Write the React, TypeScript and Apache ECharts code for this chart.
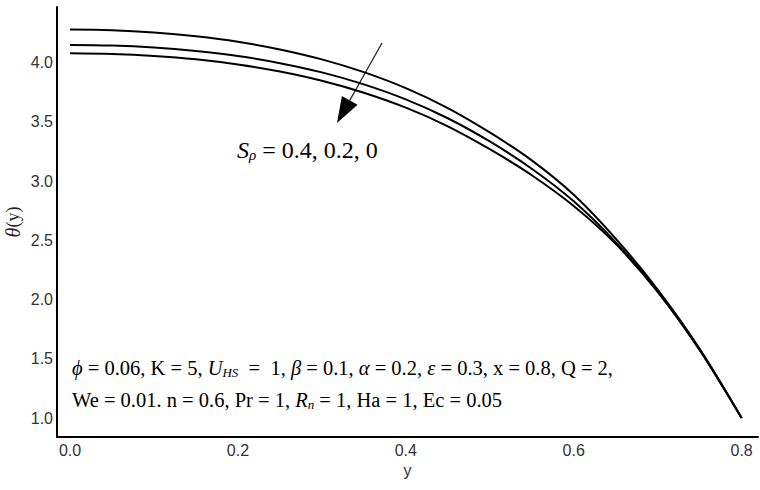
import React, { useEffect, useRef } from "react";
import * as echarts from "echarts";

const xValues = [0, 0.05, 0.1, 0.15, 0.2, 0.25, 0.3, 0.35, 0.4, 0.45, 0.5, 0.55, 0.6, 0.65, 0.7, 0.75, 0.8];
// S_p = 0.4 (top curve)
const thetaSp04 = [4.28, 4.274, 4.255, 4.223, 4.177, 4.112, 4.028, 3.92, 3.785, 3.617, 3.411, 3.175, 2.885, 2.515, 2.085, 1.585, 1.0];
// S_p = 0.2 (middle curve)
const thetaSp02 = [4.15, 4.145, 4.128, 4.098, 4.056, 3.996, 3.918, 3.817, 3.69, 3.531, 3.335, 3.105, 2.83, 2.485, 2.07, 1.575, 1.0];
// S_p = 0 (bottom curve)
const thetaSp0 = [4.08, 4.074, 4.057, 4.028, 3.984, 3.925, 3.847, 3.746, 3.62, 3.463, 3.27, 3.05, 2.79, 2.47, 2.065, 1.575, 1.0];
const xTicks = [0, 0.2, 0.4, 0.6, 0.8];
const yTicks = [1.0, 1.5, 2.0, 2.5, 3.0, 3.5, 4.0];

const serif = "'Liberation Serif', 'Times New Roman', serif";
const sans = "'Liberation Sans', Arial, sans-serif";

export default function App() {
  const ref = useRef<HTMLDivElement>(null);
  useEffect(() => {
    if (!ref.current) return;
    const chart = echarts.init(ref.current, null, { renderer: "svg" });
    const mk = (vals: number[]) => xValues.map((x, i) => [x, vals[i]]);
    const lineStyle = { color: "#000", width: 2 };
    const series = [
      { name: "Sp = 0.4", data: mk(thetaSp04) },
      { name: "Sp = 0.2", data: mk(thetaSp02) },
      { name: "Sp = 0", data: mk(thetaSp0) },
    ].map((s) => ({
      ...s,
      type: "line",
      smooth: 0.35,
      showSymbol: false,
      symbol: "none",
      lineStyle,
    }));

    const tip = [337, 123];
    const start = [382, 43];
    const dx = tip[0] - start[0];
    const dy = tip[1] - start[1];
    const len = Math.hypot(dx, dy);
    const ux = dx / len, uy = dy / len;
    const hl = 26, hw = 9;
    const bx = tip[0] - hl * ux, by = tip[1] - hl * uy;

    const txt = { fontFamily: serif, fontSize: 20.5, color: "#222" };
    const ital = { ...txt, fontStyle: "italic" };
    const sub = { fontFamily: serif, fontStyle: "italic", fontSize: 13, color: "#222", padding: [9, 0, 0, 0] };

    chart.setOption({
      animation: false,
      backgroundColor: "#fff",
      grid: { left: 57, right: 2, top: 7, bottom: 53, containLabel: false, outerBoundsMode: "none" },
      xAxis: {
        type: "value",
        min: -0.0155,
        max: 0.8195,
        name: "y",
        nameLocation: "middle",
        nameGap: 25,
        nameMoveOverlap: false,
        nameTextStyle: { fontFamily: sans, fontSize: 16, color: "#333" },
        axisLine: { show: true, onZero: false, lineStyle: { color: "#000", width: 2 } },
        axisTick: { show: false },
        splitLine: { show: false },
        axisLabel: {
          customValues: xTicks,
          formatter: (v: number) => v.toFixed(1),
          fontFamily: sans,
          fontSize: 16,
          color: "#333",
          margin: 5,
        },
      },
      yAxis: {
        type: "value",
        min: 0.84,
        max: 4.47,
        name: "{t|θ}{p|(y)}",
        nameLocation: "middle",
        nameGap: 34,
        nameMoveOverlap: false,
        nameRotate: 90,
        nameTextStyle: {
          rich: {
            t: { fontFamily: serif, fontStyle: "italic", fontSize: 20, color: "#222" },
            p: { fontFamily: serif, fontSize: 18, color: "#222" },
          },
        },
        axisLine: { show: true, onZero: false, lineStyle: { color: "#000", width: 2 } },
        axisTick: { show: false },
        splitLine: { show: false },
        axisLabel: {
          customValues: yTicks,
          formatter: (v: number) => v.toFixed(1),
          fontFamily: sans,
          fontSize: 16,
          color: "#333",
          margin: 4,
        },
      },
      series,
      graphic: [
        {
          type: "line",
          shape: { x1: start[0], y1: start[1], x2: bx, y2: by },
          style: { stroke: "#222", lineWidth: 1.2 },
        },
        {
          type: "polygon",
          shape: {
            points: [
              [tip[0], tip[1]],
              [bx + hw * -uy, by + hw * ux],
              [bx - hw * -uy, by - hw * ux],
            ],
          },
          style: { fill: "#000" },
        },
        {
          type: "text",
          x: 237,
          y: 150,
          style: {
            text: "{s|S}{sub|ρ}{t| = 0.4, 0.2, 0}",
            verticalAlign: "middle",
            rich: {
              s: { fontFamily: serif, fontStyle: "italic", fontSize: 24, color: "#222" },
              sub: { fontFamily: serif, fontStyle: "italic", fontSize: 15, color: "#222", padding: [10, 0, 0, 0] },
              t: { fontFamily: serif, fontSize: 24, color: "#222" },
            },
          },
        },
        {
          type: "text",
          x: 72,
          y: 368,
          style: {
            text:
              "{i|ϕ}{t| = 0.06, K = 5, }{i|U}{sub|HS}{t|  =  1, }{i|β}{t| = 0.1, }{i|α}{t| = 0.2, }{i|ε}{t| = 0.3, x = 0.8, Q = 2,}",
            verticalAlign: "middle",
            rich: { i: ital, t: txt, sub },
          },
        },
        {
          type: "text",
          x: 72,
          y: 400,
          style: {
            text: "{t|We = 0.01. n = 0.6, Pr = 1, }{i|R}{sub|n}{t| = 1, Ha = 1, Ec = 0.05}",
            verticalAlign: "middle",
            rich: { i: ital, t: txt, sub },
          },
        },
      ],
    });
    return () => chart.dispose();
  }, []);
  return (
    <div
      ref={ref}
      style={{ position: "absolute", left: 0, top: 0, width: 760, height: 490 }}
    />
  );
}
